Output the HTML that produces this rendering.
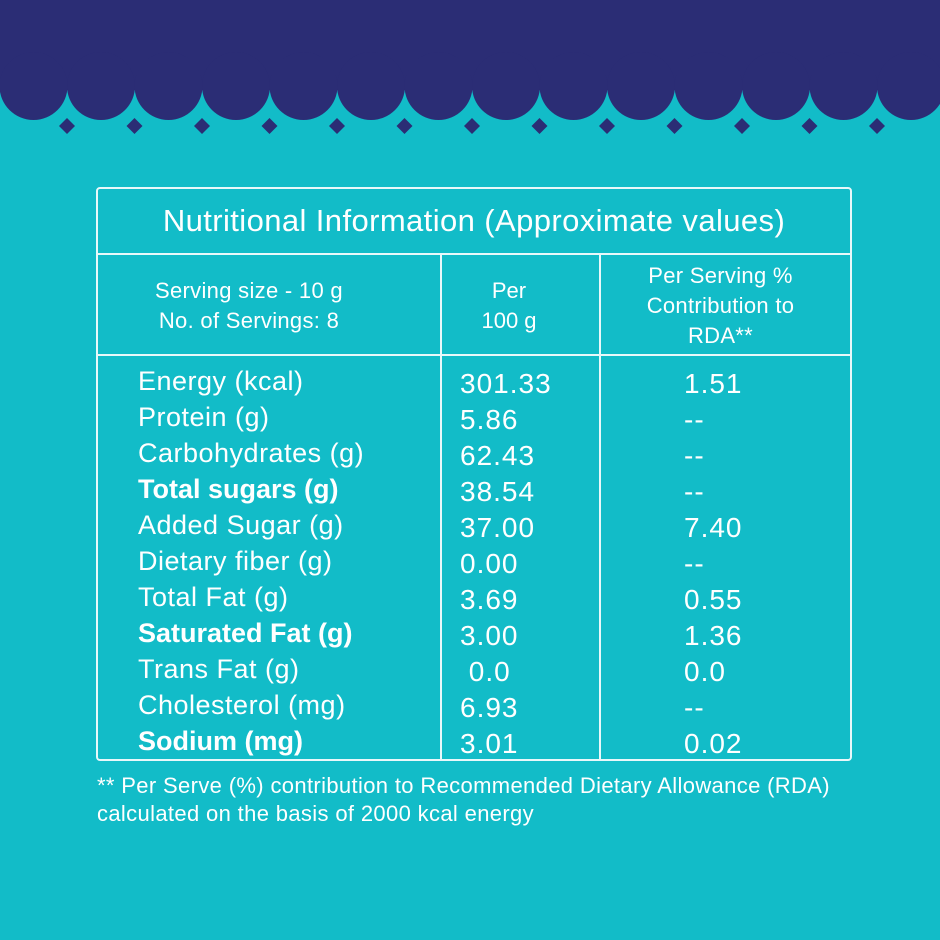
<!DOCTYPE html>
<html><head><style>
body{margin:0;width:940px;height:940px;background:#12bcc8;position:relative;overflow:hidden;font-family:"Liberation Sans",sans-serif;color:#fff}
.t{position:absolute;white-space:nowrap;line-height:1}
.b{font-weight:bold}
</style></head><body>
<svg width="940" height="140" style="position:absolute;left:0;top:0">
<rect x="0" y="0" width="940" height="90" fill="#2b2d75"/>
<g fill="#2b2d75">
<circle cx="33.5" cy="86" r="34"/><circle cx="101" cy="86" r="34"/><circle cx="168.5" cy="86" r="34"/><circle cx="236" cy="86" r="34"/><circle cx="303.5" cy="86" r="34"/><circle cx="371" cy="86" r="34"/><circle cx="438.5" cy="86" r="34"/><circle cx="506" cy="86" r="34"/><circle cx="573.5" cy="86" r="34"/><circle cx="641" cy="86" r="34"/><circle cx="708.5" cy="86" r="34"/><circle cx="776" cy="86" r="34"/><circle cx="843.5" cy="86" r="34"/><circle cx="911" cy="86" r="34"/><circle cx="978.5" cy="86" r="34"/>
</g>
<g fill="#2b2d75">
<path d="M67 118l8 8-8 8-8-8z"/><path d="M134.5 118l8 8-8 8-8-8z"/><path d="M202 118l8 8-8 8-8-8z"/><path d="M269.5 118l8 8-8 8-8-8z"/><path d="M337 118l8 8-8 8-8-8z"/><path d="M404.5 118l8 8-8 8-8-8z"/><path d="M472 118l8 8-8 8-8-8z"/><path d="M539.5 118l8 8-8 8-8-8z"/><path d="M607 118l8 8-8 8-8-8z"/><path d="M674.5 118l8 8-8 8-8-8z"/><path d="M742 118l8 8-8 8-8-8z"/><path d="M809.5 118l8 8-8 8-8-8z"/><path d="M877 118l8 8-8 8-8-8z"/>
</g>
</svg>
<svg width="940" height="940" style="position:absolute;left:0;top:0">
<g stroke="#e8f8fa" stroke-width="2" fill="none">
<rect x="97" y="188" width="754" height="572" rx="3"/>
<line x1="97" y1="254" x2="851" y2="254"/>
<line x1="97" y1="355" x2="851" y2="355"/>
<line x1="441" y1="254" x2="441" y2="760"/>
<line x1="600" y1="254" x2="600" y2="760"/>
</g>
</svg>
<div class="t" style="left:97px;width:754px;text-align:center;top:205px;font-size:31px;letter-spacing:0.4px">Nutritional Information (Approximate values)</div>
<div class="t" style="left:97px;width:304px;text-align:center;top:276px;font-size:22px;line-height:30px;letter-spacing:0.3px">Serving size - 10 g<br>No. of Servings: 8</div>
<div class="t" style="left:441px;width:136px;text-align:center;top:276px;font-size:22px;line-height:30px">Per<br>100 g</div>
<div class="t" style="left:600px;width:241px;text-align:center;top:261px;font-size:22px;line-height:30px;letter-spacing:0.3px">Per Serving %<br>Contribution to<br>RDA**</div>
<div class="t" style="left:138px;top:363px;font-size:27px;line-height:36px;letter-spacing:0.5px">Energy (kcal)<br>Protein (g)<br>Carbohydrates (g)<br><span class="b" style="letter-spacing:0">Total sugars (g)</span><br>Added Sugar (g)<br>Dietary fiber (g)<br>Total Fat (g)<br><span class="b" style="letter-spacing:0">Saturated Fat (g)</span><br>Trans Fat (g)<br>Cholesterol (mg)<br><span class="b" style="letter-spacing:0">Sodium (mg)</span></div>
<div class="t" style="left:460px;top:366px;font-size:28px;line-height:36px;letter-spacing:1px">301.33<br>5.86<br>62.43<br>38.54<br>37.00<br>0.00<br>3.69<br>3.00<br>&nbsp;0.0<br>6.93<br>3.01</div>
<div class="t" style="left:684px;top:366px;font-size:28px;line-height:36px;letter-spacing:1px">1.51<br>--<br>--<br>--<br>7.40<br>--<br>0.55<br>1.36<br>0.0<br>--<br>0.02</div>
<div class="t" style="left:97px;top:772px;font-size:22px;line-height:28px;letter-spacing:0.35px">** Per Serve (%) contribution to Recommended Dietary Allowance (RDA)<br>calculated on the basis of 2000 kcal energy</div>
</body></html>
